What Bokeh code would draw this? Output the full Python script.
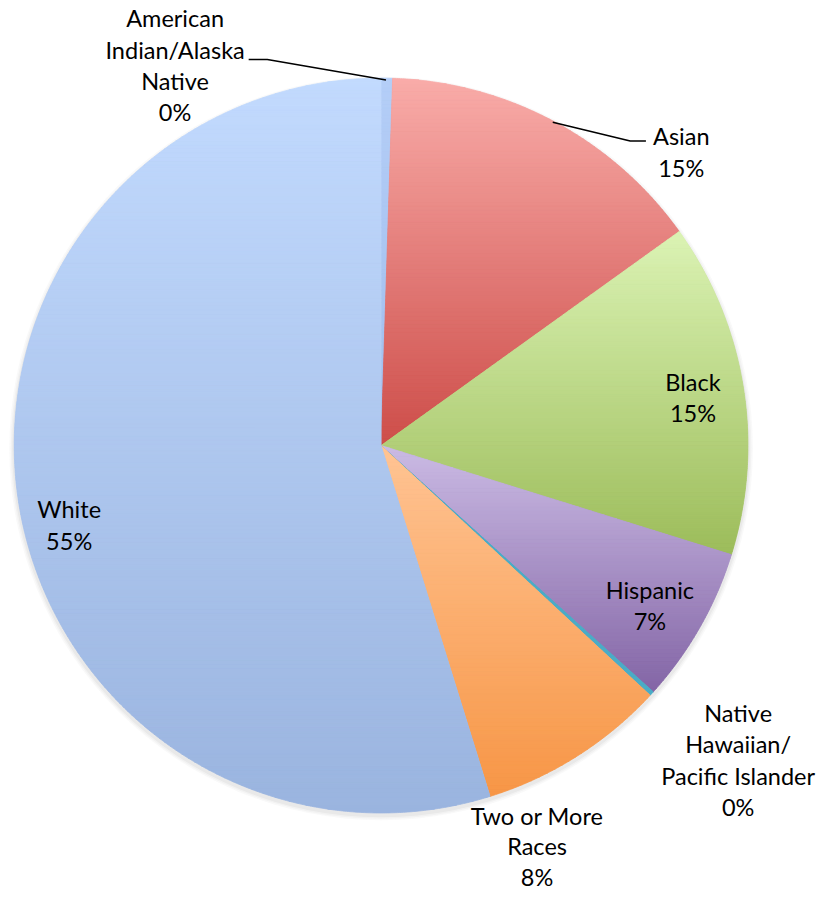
import math
from bokeh.plotting import figure
from bokeh.models import Range1d
from bokeh.core.properties import value
from bokeh.embed import file_html
from bokeh.resources import INLINE

# ---- data ----
categories = ["American Indian/Alaska Native", "Asian", "Black", "Hispanic",
              "Native Hawaiian/Pacific Islander", "Two or More Races", "White"]
shares = [0.5, 14.6, 14.7, 6.9, 0.2, 8.3, 54.8]
label_lines = [["American", "Indian/Alaska", "Native"], ["Asian"], ["Black"], ["Hispanic"],
               ["Native", "Hawaiian/", "Pacific Islander"], ["Two or More", "Races"], ["White"]]

# ---- style ----
top_colors = ["#b4cef7", "#f9aca9", "#dbf3b4", "#cbbbe4", "#4bacc6", "#ffc494", "#c2dafe"]
bot_colors = ["#a0bcec", "#cd4d49", "#9cbc5a", "#8365a6", "#4bacc6", "#f79646", "#9ab4df"]
# label anchor (relative to pie centre) for first line, line step 32
label_pos = [(-210, 435), (306, 315), (318, 65), (274, -147), (364, -272), (159, -377), (-318, -65)]
label_step = [32, 32, 32, 32, 32, 31, 32]
R = 374
FONT = "Lato"

W, H = 822, 895
p = figure(width=W, height=H, output_backend="svg", toolbar_location=None,
           x_range=Range1d(-388, 450), y_range=Range1d(-458, 453),
           min_border=0, border_fill_color="white", background_fill_color="white")
p.axis.visible = False
p.grid.visible = False
p.outline_line_color = None


def hex2rgb(h):
    h = h.lstrip("#")
    return tuple(int(h[i:i + 2], 16) for i in (0, 2, 4))


def mix(c1, c2, t):
    a, b = hex2rgb(c1), hex2rgb(c2)
    return "#%02x%02x%02x" % tuple(int(round(a[i] + (b[i] - a[i]) * t)) for i in range(3))


def clip(poly, y0, y1):
    def clip_half(pts, keep, inter):
        out = []
        n = len(pts)
        for i in range(n):
            cur, prv = pts[i], pts[i - 1]
            if keep(cur):
                if not keep(prv):
                    out.append(inter(prv, cur))
                out.append(cur)
            elif keep(prv):
                out.append(inter(prv, cur))
        return out

    def iy(yv):
        def f(a, b):
            t = (yv - a[1]) / (b[1] - a[1])
            return (a[0] + t * (b[0] - a[0]), yv)
        return f

    pts = clip_half(poly, lambda q: q[1] >= y0, iy(y0))
    if not pts:
        return pts
    return clip_half(pts, lambda q: q[1] <= y1, iy(y1))


# shadow
for k, a in [(5, 0.05), (3.5, 0.06), (2, 0.08)]:
    p.circle(x=[0], y=[-3], radius=R + k, fill_color="#808080", fill_alpha=a, line_color=None)

total = sum(shares)
cum = 0.0
for i, s in enumerate(shares):
    a_start = math.pi / 2 - 2 * math.pi * (cum + s) / total
    a_end = math.pi / 2 - 2 * math.pi * cum / total
    cum += s
    p.wedge(x=[0], y=[0], radius=R, start_angle=a_start, end_angle=a_end,
            fill_color=mix(top_colors[i], bot_colors[i], 0.5), line_color=None)
    n = max(4, int((a_end - a_start) * R / 2))
    poly = [(0.0, 0.0)] + [(R * math.cos(a_start + (a_end - a_start) * j / n),
                            R * math.sin(a_start + (a_end - a_start) * j / n)) for j in range(n + 1)]
    ys = [q[1] for q in poly]
    ytop, ybot = max(ys), min(ys)
    step = 4.0
    xs_list, ys_list, cols = [], [], []
    yb = ybot
    while yb < ytop:
        yt = min(yb + step, ytop)
        band = clip(poly, yb, yt)
        if len(band) >= 3:
            t = (ytop - (yb + yt) / 2) / (ytop - ybot) if ytop > ybot else 0
            xs_list.append([q[0] for q in band])
            ys_list.append([q[1] for q in band])
            cols.append(mix(top_colors[i], bot_colors[i], t))
        yb = yt
    p.patches(xs=xs_list, ys=ys_list, fill_color=cols, line_color=cols, line_width=0.8)

# leader lines (relative to centre)
p.line(x=[-135, -116, 5], y=[393, 393, 372], line_color="black", line_width=1.5)
p.line(x=[175, 254, 270], y=[329, 310, 310], line_color="black", line_width=1.5)

# labels
for i, lines in enumerate(label_lines):
    lx, ly = label_pos[i]
    texts = lines + ["%d%%" % round(shares[i])]
    p.text(x=[lx] * len(texts), y=[ly - label_step[i] * j for j in range(len(texts))], text=texts,
           text_font=value(FONT), text_font_size="23.5px", text_color="black",
           text_align="center", text_baseline="middle")

open("out.html", "w").write(file_html(p, INLINE))
